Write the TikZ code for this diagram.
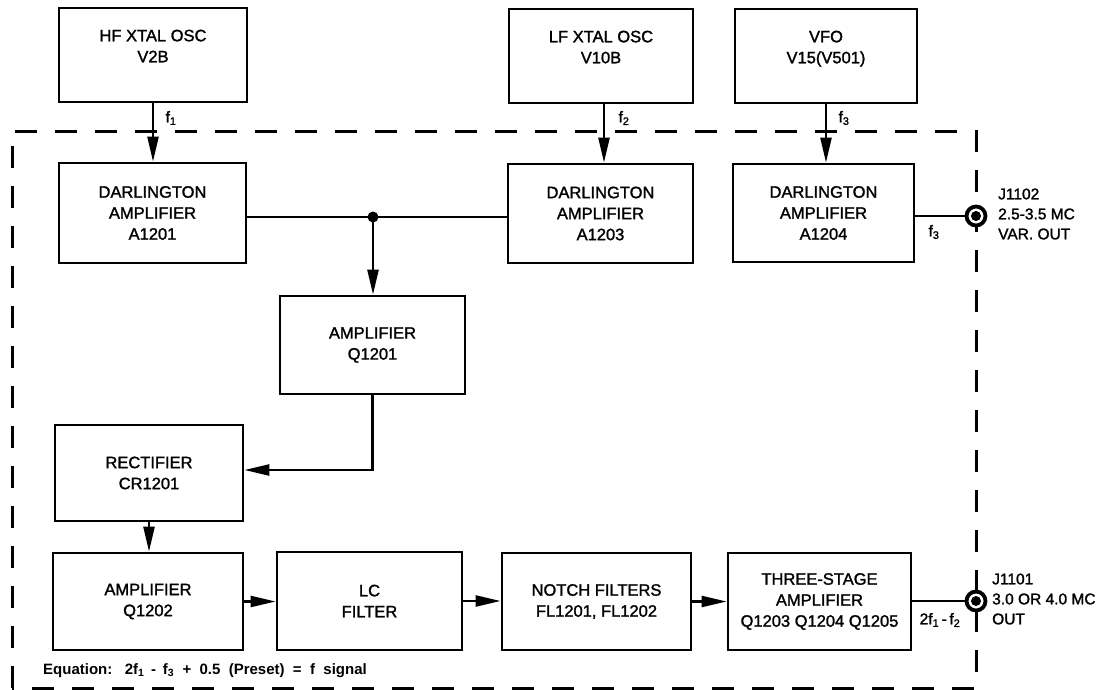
\documentclass[tikz,border=0pt]{standalone}
\usepackage{fontspec}
\setmainfont{Liberation Sans}
\newfontfamily\blkfont{Liberation Sans}[FakeBold=1.5]
\usetikzlibrary{arrows.meta,calc}
\begin{document}
\begin{tikzpicture}[x=1pt,y=-1pt,
  blk/.style={draw,line width=2.8pt,minimum width=186pt,minimum height=97pt,align=center,
    font=\blkfont\fontsize{16.5}{21}\selectfont,inner sep=0pt},
  wire/.style={line width=2.4pt},
  arr/.style={wire,-{Triangle[length=25pt,width=11pt]}},
  bound/.style={line width=3pt,dash pattern=on 22pt off 18pt},
  lbl/.style={font=\blkfont\fontsize{15.5}{20}\selectfont,align=left,inner sep=0pt,anchor=west},
  flbl/.style={font=\blkfont\fontsize{15.5}{17}\selectfont,inner sep=0pt},
  jack/.style={circle,draw,line width=3.8pt,fill=white,minimum size=19pt,inner sep=0pt},
]
\useasboundingbox (0,0) rectangle (1111,689);
\fill[white] (0,0) rectangle (1111,689);

% dashed chassis boundary
\draw[bound] (12,688) -- (12,131) -- (976,131) -- (976,688) -- cycle;

% blocks
\node[blk,minimum width=188pt,minimum height=94pt] (hf) at (153,55) {HF XTAL OSC\\V2B\\[-3pt]};
\node[blk,minimum width=184pt,minimum height=94pt] (lf) at (601,56) {LF XTAL OSC\\V10B\\[-3pt]};
\node[blk,minimum width=182pt,minimum height=94pt] (vfo) at (826,56) {VFO\\V15(V501)\\[-3pt]};
\node[blk,minimum width=187pt,minimum height=100pt] (a1201) at (152.5,213) {DARLINGTON\\AMPLIFIER\\A1201};
\node[blk,minimum width=185pt,minimum height=99pt] (a1203) at (600.5,213.5) {DARLINGTON\\AMPLIFIER\\A1203};
\node[blk,minimum width=181pt,minimum height=98pt] (a1204) at (823.5,213) {DARLINGTON\\AMPLIFIER\\A1204};
\node[blk,minimum width=185pt,minimum height=98pt] (q1201) at (372.5,345) {AMPLIFIER\\Q1201};
\node[blk,minimum width=188pt,minimum height=96pt] (cr) at (149,473) {RECTIFIER\\CR1201};
\node[blk,minimum width=190pt,minimum height=97pt] (q1202) at (148,601.5) {AMPLIFIER\\Q1202};
\node[blk,minimum width=185pt,minimum height=98pt] (lc) at (369.5,601) {LC\\FILTER};
\node[blk,minimum width=189pt,minimum height=97pt] (notch) at (596.5,601.5) {NOTCH FILTERS\\FL1201, FL1202};
\node[blk,minimum width=183pt,minimum height=97pt] (three) at (819.5,601.5) {THREE-STAGE\\AMPLIFIER\\Q1203 Q1204 Q1205};

% output jacks
\node[jack] (j1102) at (976,216) {};
\node[jack] (j1101) at (976,601) {};
\fill (j1102) circle (5pt);
\fill (j1101) circle (5pt);

% connectors
\draw[arr] (hf.south) -- (hf.south |- a1201.north);
\draw[arr] ([xshift=3pt]lf.south) -- ([xshift=3pt]lf.south |- a1203.north);
\draw[arr] (vfo.south) -- (vfo.south |- a1204.north);

\coordinate (jn) at (373,217);
\draw[wire] (a1201.east |- jn) -- (a1203.west |- jn);
\fill (jn) circle (5.5pt);
\draw[arr] (jn) -- (jn |- q1201.north);
\draw[arr] (q1201.south) |- ([yshift=3pt]cr.east);
\draw[arr] (cr.south) -- (cr.south |- q1202.north);
\draw[arr] (q1202.east) -- (q1202.east -| lc.west);
\draw[arr] (lc.east) -- (lc.east -| notch.west);
\draw[arr] (notch.east) -- (notch.east -| three.west);
\draw[wire] (a1204.east |- j1102) -- (j1102.west);
\draw[wire] (three.east |- j1101) -- (j1101.west);

% labels
\node[flbl] (f1) at (171,118) {f\textsubscript{1}};
\node[flbl] (f2) at (624,118) {f\textsubscript{2}};
\node[flbl] (f3a) at (844,118) {f\textsubscript{3}};
\node[flbl] (f3b) at (934,232) {f\textsubscript{3}};
\node[flbl] (ff) at (940,620) {2f\textsubscript{1}\,-\,f\textsubscript{2}};
\node[lbl] (l1102) at (998,214) {J1102\\2.5-3.5 MC\\VAR. OUT};
\node[lbl] (l1101) at (992,599) {J1101\\3.0 OR 4.0 MC\\OUT};
\node[anchor=base west,inner sep=0pt,font=\fontsize{15}{17}\selectfont\bfseries] (eq) at (43,674)
  {Equation:\ \ \ 2f\textsubscript{1}\ \,-\ \,f\textsubscript{3}\ \ +\ \ 0.5\ \ (Preset)\ \ =\ \ f\ \ signal};
\end{tikzpicture}
\end{document}
